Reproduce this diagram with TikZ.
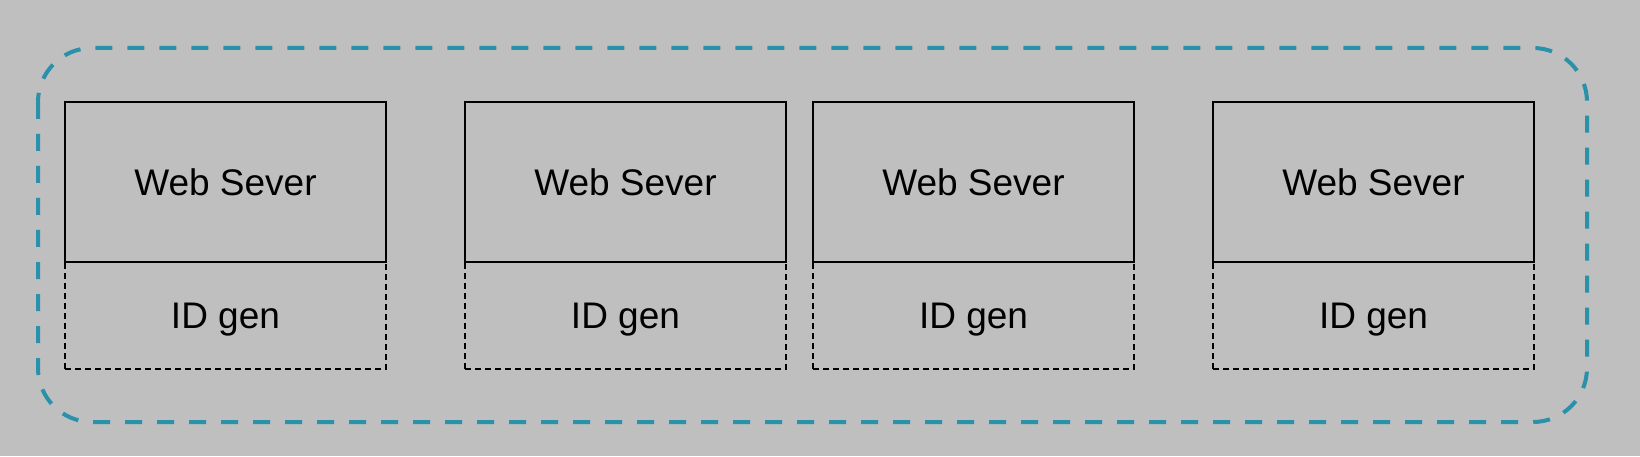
\documentclass[tikz,border=0pt]{standalone}
\usepackage{fontspec}
\setmainfont{Liberation Sans}
\usepackage{tikz}
\usetikzlibrary{positioning,calc}
\definecolor{bggray}{RGB}{191,191,191}
\definecolor{groupblue}{RGB}{42,145,170}

\begin{document}
\begin{tikzpicture}
\tikzstyle{web}=[rectangle, draw=black, line width=1pt, minimum width=160.5pt, minimum height=80pt, outer sep=0pt, inner sep=0pt, font=\fontsize{18.5}{22}\selectfont]
\tikzstyle{gen}=[rectangle, draw=black, line width=1.1pt, dash pattern=on 3pt off 2pt, minimum width=160.5pt, minimum height=53.5pt, outer sep=0pt, inner sep=0pt, text depth=0pt, font=\fontsize{18.5}{22}\selectfont]
\tikzstyle{group}=[draw=groupblue, line width=2pt, dash pattern=on 8.5pt off 7.5pt, rounded corners=27pt]
\fill[bggray] (0,0) rectangle (820pt,228pt);
\useasboundingbox (0,0) rectangle (820pt,228pt);
\coordinate (org) at (32.5pt,177pt);
  \node[web, anchor=north west] (ws_1) at (org) {Web Sever};
  \node[web] (ws_2) [right=39.5pt of ws_1] {Web Sever};
  \node[web] (ws_3) [right=13.5pt of ws_2] {Web Sever};
  \node[web] (ws_4) [right=39.5pt of ws_3] {Web Sever};

\node[gen] (id_1) [below=0pt of ws_1] {ID gen};
\node[gen] (id_2) [below=0pt of ws_2] {ID gen};
\node[gen] (id_3) [below=0pt of ws_3] {ID gen};
\node[gen] (id_4) [below=0pt of ws_4] {ID gen};

% redraw the solid boxes over the dashed tops
\foreach \i in {1,...,4}
  \draw[line width=1pt] (ws_\i.south west) rectangle (ws_\i.north east);

\draw[group] ($(ws_1.north west)+(-13.5pt,27pt)$) rectangle ($(id_4.south east)+(26.5pt,-26.5pt)$);
\end{tikzpicture}
\end{document}
